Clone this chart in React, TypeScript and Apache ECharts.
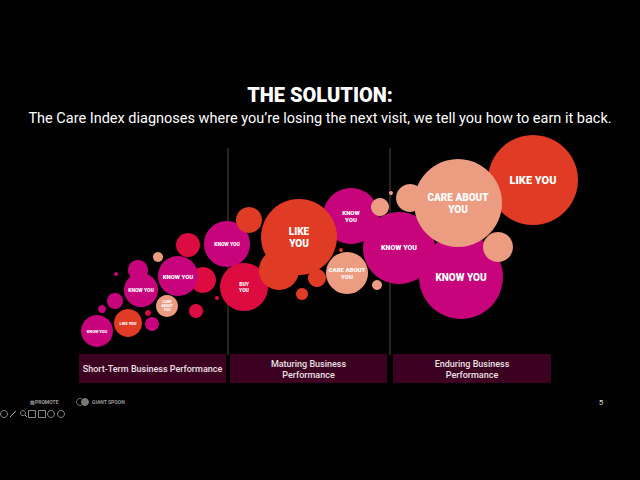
import React, { useEffect, useRef } from "react";
import * as echarts from "echarts";

// Bubble data (position on a 640x480 slide canvas, radius, kind, label, label size)
const bubbleX = [116, 102, 138, 115, 141, 97, 152, 148, 128, 167, 158, 188, 203, 178, 196, 217, 227,
  249, 244, 279, 351, 299, 317, 302, 341, 391, 410, 399, 380, 347, 377,
  533, 461, 458, 498];
const bubbleY = [274, 309, 270, 301, 290, 331, 324, 313, 323, 306, 257, 245, 280, 276, 311, 298, 244,
  220, 287, 270, 216, 237, 278, 294, 250, 193, 198, 248, 207, 273, 285,
  180, 277, 203, 247];
const bubbleR = [2, 4, 10, 8, 17, 16, 7, 3, 14, 11, 5, 12, 13, 20, 7, 2, 23,
  13, 24, 20, 28, 38, 9, 6, 2, 2, 14, 36, 9, 21, 5,
  45, 42, 44, 15];
const bubbleKind = ["know", "know", "know", "know", "know", "know", "know", "buy", "like", "care", "care", "buy", "buy", "know", "buy", "buy", "know",
  "like", "buy", "like", "know", "like", "like", "like", "like", "care", "care", "know", "care", "care", "care",
  "like", "know", "care", "care"];
const bubbleLabel = ["", "", "", "", "KNOW YOU", "KNOW YOU", "", "", "LIKE YOU", "CARE\nABOUT\nYOU", "", "", "", "KNOW YOU", "", "", "KNOW YOU",
  "", "BUY\nYOU", "", "KNOW\nYOU", "LIKE\nYOU", "", "", "", "", "", "KNOW YOU", "", "CARE ABOUT\nYOU", "",
  "LIKE YOU", "KNOW YOU", "CARE ABOUT\nYOU", ""];
const labelSize = [0, 0, 0, 0, 5, 4, 0, 0, 4, 3.5, 0, 0, 0, 6, 0, 0, 5,
  0, 5, 0, 6, 10, 0, 0, 0, 0, 0, 7, 0, 6, 0,
  11, 10, 10, 0];

const kindColors: Record<string, string> = {
  know: "#c8047c",
  buy: "#dc0c40",
  like: "#e03b24",
  care: "#ec9c80",
};

const stageLabels = ["Short-Term Business Performance", "Maturing Business\nPerformance", "Enduring Business\nPerformance"];

export default function App() {
  const ref = useRef<HTMLDivElement>(null);
  useEffect(() => {
    document.body.style.margin = "0";
    document.body.style.background = "#000";
    const chart = echarts.init(ref.current!, undefined, { renderer: "svg" });
    const data = bubbleX.map((x, i) => ({
      name: bubbleLabel[i],
      value: [x, bubbleY[i], bubbleR[i]],
      itemStyle: { color: kindColors[bubbleKind[i]], opacity: 1 },
      label: {
        show: bubbleLabel[i] !== "",
        formatter: "{b}",
        position: "inside",
        color: "#fff",
        fontSize: labelSize[i] || 6,
        fontWeight: 900,
        fontFamily: "Roboto",
        lineHeight: (labelSize[i] || 6) * 1.2,
        align: "center",
      },
    }));
    const boxX = [79, 230, 393];
    const boxW = [147, 157, 158];
    const graphics: any[] = [];
    // separator lines
    [228, 390].forEach((x) => {
      graphics.push({ type: "line", shape: { x1: x, y1: 148, x2: x, y2: 355 }, style: { stroke: "#4a4a4a", lineWidth: 1 }, z: -1 });
    });
    stageLabels.forEach((t, i) => {
      graphics.push({ type: "rect", shape: { x: boxX[i], y: 354, width: boxW[i], height: 29 }, style: { fill: "#3c0020" } });
      graphics.push({
        type: "text",
        x: boxX[i] + boxW[i] / 2,
        y: 369,
        style: { text: t, fill: "#ece2e6", font: "500 9px Roboto", align: "center", verticalAlign: "middle", lineHeight: 11 },
      });
    });
    graphics.push({ type: "text", x: 30, y: 402, style: { text: "▥PROMOTE", fill: "#9a9a9a", font: "bold 5px Roboto", verticalAlign: "middle" } });
    graphics.push({ type: "circle", shape: { cx: 80, cy: 402, r: 3.5 }, style: { fill: "none", stroke: "#8a8a8a", lineWidth: 0.8 } });
    graphics.push({ type: "circle", shape: { cx: 85, cy: 402, r: 3.5 }, style: { fill: "#777", stroke: "#8a8a8a", lineWidth: 0.8 } });
    graphics.push({ type: "text", x: 92, y: 402, style: { text: "GIANT SPOON", fill: "#9a9a9a", font: "bold 5px Roboto", verticalAlign: "middle" } });
    graphics.push({ type: "text", x: 601, y: 402, style: { text: "5", fill: "#ddd", font: "8px Roboto", align: "center", verticalAlign: "middle" } });
    // toolbar icons
    const iconX = [4, 13, 23, 32, 42, 51, 61];
    iconX.forEach((x, i) => {
      if (i === 0 || i === 5 || i === 6) {
        graphics.push({ type: "circle", shape: { cx: x, cy: 414, r: 3.5 }, style: { fill: "none", stroke: "#aaa", lineWidth: 0.8 } });
      } else if (i === 1) {
        graphics.push({ type: "line", shape: { x1: x - 3, y1: 417, x2: x + 3, y2: 411 }, style: { stroke: "#aaa", lineWidth: 1 } });
      } else if (i === 2) {
        graphics.push({ type: "circle", shape: { cx: x, cy: 413, r: 2.5 }, style: { fill: "none", stroke: "#aaa", lineWidth: 0.8 } });
        graphics.push({ type: "line", shape: { x1: x + 2, y1: 415, x2: x + 4, y2: 417 }, style: { stroke: "#aaa", lineWidth: 1 } });
      } else {
        graphics.push({ type: "rect", shape: { x: x - 3.5, y: 410.5, width: 7, height: 7 }, style: { fill: "none", stroke: "#aaa", lineWidth: 0.8 } });
      }
    });

    chart.setOption({
      animation: false,
      backgroundColor: "#000",
      title: {
        text: "THE SOLUTION:",
        subtext: "The Care Index diagnoses where you\u2019re losing the next visit, we tell you how to earn it back.",
        left: "center",
        top: 80,
        itemGap: 6,
        textStyle: { color: "#fff", fontSize: 20, fontWeight: 900, fontFamily: "Roboto" },
        subtextStyle: { color: "#fff", fontSize: 14.5, fontFamily: "Roboto" },
      },
      grid: { left: 0, top: 0, width: 640, height: 480 },
      xAxis: { type: "value", min: 0, max: 640, show: false },
      yAxis: { type: "value", min: 0, max: 480, inverse: true, show: false },
      series: [
        {
          type: "scatter",
          data,
          symbolSize: (v: number[]) => v[2] * 2,
          emphasis: { disabled: true },
        },
      ],
      graphic: graphics,
    });
    return () => chart.dispose();
  }, []);
  return <div ref={ref} style={{ position: "absolute", left: 0, top: 0, width: 640, height: 480, background: "#000" }} />;
}
